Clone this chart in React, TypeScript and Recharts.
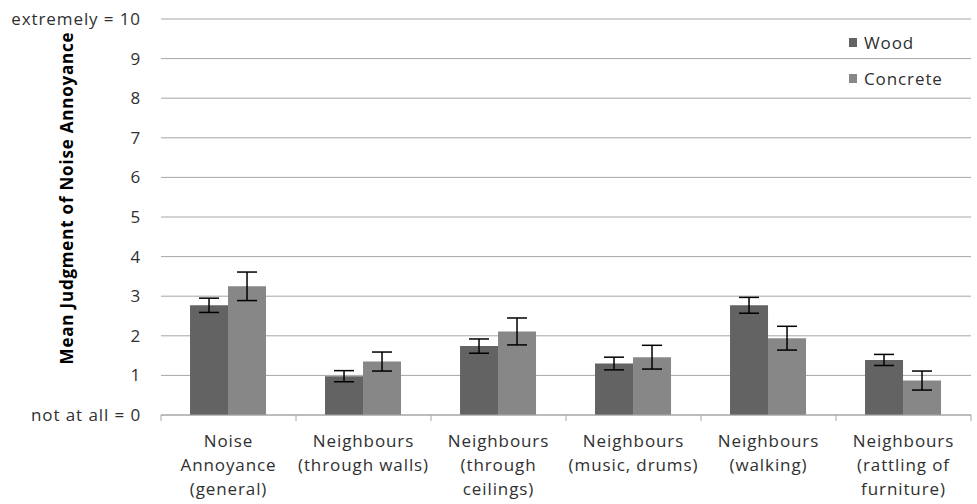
import { Bar, BarChart, CartesianGrid, ErrorBar, Legend, XAxis, YAxis } from "recharts";

// values (mean judgment, 0..10 scale)
const categories = [
  ["Noise", "Annoyance", "(general)"],
  ["Neighbours", "(through walls)"],
  ["Neighbours", "(through", "ceilings)"],
  ["Neighbours", "(music, drums)"],
  ["Neighbours", "(walking)"],
  ["Neighbours", "(rattling of", "furniture)"],
];
const wood = [2.77, 0.98, 1.74, 1.3, 2.77, 1.39];
const woodErr = [0.18, 0.14, 0.18, 0.16, 0.2, 0.14];
const concrete = [3.25, 1.35, 2.11, 1.46, 1.94, 0.87];
const concreteErr = [0.36, 0.24, 0.34, 0.3, 0.3, 0.24];
const yTicks = [0, 1, 2, 3, 4, 5, 6, 7, 8, 9, 10];

const FONT = "'Open Sans', 'Noto Sans', sans-serif";
const TEXT = "#303030";
const AXIS = "#a6a6a6";
const WOOD = "#636363";
const CONCRETE = "#878787";

const rows = categories.map((lines, i) => ({
  name: lines.join(" "),
  lines,
  wood: wood[i],
  woodErr: woodErr[i],
  concrete: concrete[i],
  concreteErr: concreteErr[i],
}));

function yLabel(v: number) {
  if (v === 10) return "extremely = 10";
  if (v === 0) return "not at all = 0";
  return String(v);
}

function CategoryTick(props: any) {
  const { x, y, payload, index } = props;
  const lines: string[] = rows[index]?.lines ?? [String(payload.value)];
  const half = payload.offset ?? 67.5;
  const top = y - 8;
  return (
    <g>
      <line x1={x - half} x2={x - half} y1={top} y2={top + 6} stroke={AXIS} />
      {index === rows.length - 1 && (
        <line x1={x + half} x2={x + half} y1={top} y2={top + 6} stroke={AXIS} />
      )}
      <text textAnchor="middle" fill={TEXT} fontSize={17} letterSpacing={0.9} fontFamily={FONT}>
        {lines.map((l, i) => (
          <tspan key={i} x={x} y={top + 32 + i * 24}>
            {l}
          </tspan>
        ))}
      </text>
    </g>
  );
}

function LegendBox() {
  const items = [
    { label: "Wood", color: WOOD },
    { label: "Concrete", color: CONCRETE },
  ];
  return (
    <div style={{ fontFamily: FONT, fontSize: 17, letterSpacing: 0.9, color: TEXT }}>
      {items.map((it) => (
        <div key={it.label} style={{ display: "flex", alignItems: "center", height: 36 }}>
          <span
            style={{ width: 8, height: 9, background: it.color, marginRight: 7, display: "inline-block" }}
          />
          {it.label}
        </div>
      ))}
    </div>
  );
}

export default function App() {
  return (
    <div style={{ position: "absolute", left: 0, top: 0, background: "#fff" }}>
      <BarChart
        width={977}
        height={504}
        data={rows}
        margin={{ top: 19, right: 6, left: 0, bottom: 0 }}
        barCategoryGap="21.5%"
        barGap={0}
      >
        <CartesianGrid vertical={false} stroke={AXIS} />
        <XAxis
          dataKey="name"
          height={89}
          interval={0}
          tick={<CategoryTick />}
          tickLine={false}
          axisLine={{ stroke: AXIS }}
        />
        <YAxis
          domain={[0, 10]}
          ticks={yTicks}
          width={161}
          tickFormatter={yLabel}
          tickLine={false}
          axisLine={false}
          tickSize={6}
          tickMargin={14}
          tick={{ fill: TEXT, fontSize: 17, letterSpacing: 0.9, fontFamily: FONT }}
          label={{
            content: () => (
              <text
                transform="translate(73, 198) rotate(-90)"
                textAnchor="middle"
                fill="#000"
                fontSize={17}
                letterSpacing={0.8}
                fontWeight="bold"
                fontFamily={FONT}
              >
                Mean Judgment of Noise Annoyance
              </text>
            ),
          }}
        />
        <Legend
          layout="vertical"
          verticalAlign="middle"
          align="center"
          content={<LegendBox />}
          wrapperStyle={{ top: 24, left: 849, width: 125 }}
        />
        <Bar dataKey="wood" name="Wood" fill={WOOD} isAnimationActive={false}>
          <ErrorBar dataKey="woodErr" width={10} stroke="#000" strokeWidth={1.5} />
        </Bar>
        <Bar dataKey="concrete" name="Concrete" fill={CONCRETE} isAnimationActive={false}>
          <ErrorBar dataKey="concreteErr" width={10} stroke="#000" strokeWidth={1.5} />
        </Bar>
      </BarChart>
    </div>
  );
}
